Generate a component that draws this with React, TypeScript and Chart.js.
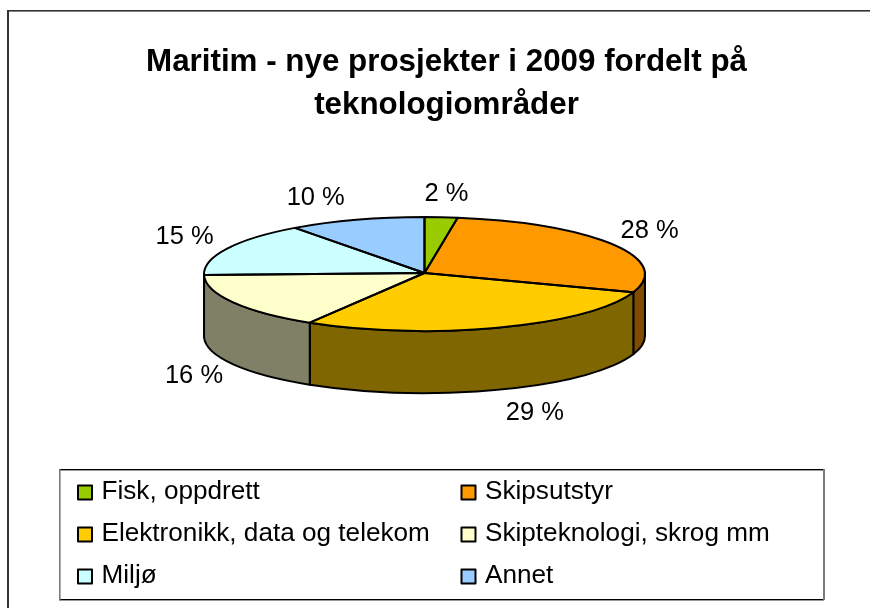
import React, { useEffect, useRef } from "react";
import { Chart, registerables } from "chart.js";

Chart.register(...registerables);

const titleLines = ["Maritim - nye prosjekter i 2009 fordelt på", "teknologiområder"];
const categories = ["Fisk, oppdrett", "Skipsutstyr", "Elektronikk, data og telekom", "Skipteknologi, skrog mm", "Miljø", "Annet"];
const shares = [2.4, 27.8, 28.51, 16.0, 15.29, 10.0];
const topColors = ["#99CC00", "#FF9900", "#FFCC00", "#FFFFCC", "#CCFFFF", "#99CCFF"];
const wallColors = ["#4D6600", "#804D00", "#806600", "#808066", "#668080", "#4D6680"];
const labelNudgeX = [2, -1, 20, -1, -3, -27];
const labelNudgeY = [0, -2, 2, 0, -1, 0];

const FONT = '"Liberation Sans", Arial, sans-serif';
const CX = 424.5, CY = 274, RX = 220.5, RY = 57, DEPTH = 62, PEN = 2;

function ellipsePath(ctx: CanvasRenderingContext2D, a0: number, a1: number, yOff: number, ccw = false) {
  ctx.ellipse(CX, CY + yOff, RX, RY, 0, a0, a1, ccw);
}

const pie3d = {
  id: "pie3d",
  beforeDraw(chart: any) {
    const ctx: CanvasRenderingContext2D = chart.ctx;
    ctx.save();
    ctx.fillStyle = "#ffffff";
    ctx.fillRect(0, 0, chart.width, chart.height);
    ctx.fillStyle = "#333333";
    ctx.fillRect(7, 10, chart.width - 7, 1.6);
    ctx.fillRect(7, 10, 2, chart.height - 10);
    ctx.restore();
  },
  beforeDatasetsDraw(chart: any) {
    const ctx: CanvasRenderingContext2D = chart.ctx;
    const arcs = chart.getDatasetMeta(0).data;
    ctx.save();
    ctx.lineWidth = PEN;
    ctx.strokeStyle = "#000";
    ctx.lineJoin = "round";
    // outer wall of each slice, only the part that faces the viewer (canvas angles 0..PI)
    arcs.forEach((arc: any, i: number) => {
      const { startAngle, endAngle } = arc.getProps(["startAngle", "endAngle"], true);
      for (const shift of [0, -2 * Math.PI, 2 * Math.PI]) {
        const a0 = Math.max(startAngle + shift, 0);
        const a1 = Math.min(endAngle + shift, Math.PI);
        if (a1 <= a0) continue;
        ctx.beginPath();
        ellipsePath(ctx, a0, a1, 0);
        ellipsePath(ctx, a1, a0, DEPTH, true);
        ctx.closePath();
        ctx.fillStyle = wallColors[i];
        ctx.fill();
        ctx.stroke();
      }
    });
    ctx.restore();
    // squash the library's own arcs onto the tilted ellipse
    const a0 = arcs[0].getProps(["x", "y", "outerRadius"], true);
    ctx.save();
    ctx.translate(CX, CY);
    ctx.scale(RX / a0.outerRadius, RY / a0.outerRadius);
    ctx.translate(-a0.x, -a0.y);
  },
  afterDatasetsDraw(chart: any) {
    const ctx: CanvasRenderingContext2D = chart.ctx;
    ctx.restore();
    const arcs = chart.getDatasetMeta(0).data;
    const values: number[] = chart.data.datasets[0].data;
    const total = values.reduce((s, v) => s + v, 0);
    ctx.save();
    ctx.lineWidth = PEN;
    ctx.strokeStyle = "#000";
    ctx.lineJoin = "round";
    arcs.forEach((arc: any) => {
      const { startAngle, endAngle } = arc.getProps(["startAngle", "endAngle"], true);
      ctx.beginPath();
      ctx.moveTo(CX, CY - 1);
      ellipsePath(ctx, startAngle, endAngle, 0);
      ctx.closePath();
      ctx.stroke();
    });
    // data labels
    ctx.fillStyle = "#000";
    ctx.font = `25.5px ${FONT}`;
    ctx.textAlign = "center";
    ctx.textBaseline = "middle";
    arcs.forEach((arc: any, i: number) => {
      const { startAngle, endAngle } = arc.getProps(["startAngle", "endAngle"], true);
      const mid = (startAngle + endAngle) / 2;
      const x = CX + (RX * 1.2) * Math.cos(mid) + labelNudgeX[i];
      const y = CY + (RY * 1.4) * Math.sin(mid) + (Math.sin(mid) > 0 ? DEPTH : 0) + labelNudgeY[i];
      ctx.fillText(`${Math.round((values[i] / total) * 100)} %`, x, y);
    });
    // legend
    ctx.fillStyle = "#000";
    ctx.fillRect(59, 469, 765, 1.4);
    ctx.fillRect(59, 599, 765, 1.4);
    ctx.fillStyle = "#7a7a7a";
    ctx.fillRect(59, 469, 1.6, 131);
    ctx.fillRect(823, 469, 2, 131);
    ctx.font = `26.15px ${FONT}`;
    ctx.textAlign = "left";
    categories.forEach((name, i) => {
      const col = i % 2, row = Math.floor(i / 2);
      const mx = col ? 461.5 : 78;
      const my = 485.5 + row * 42;
      ctx.fillStyle = topColors[i];
      ctx.fillRect(mx, my, 14, 14);
      ctx.strokeStyle = "#000";
      ctx.lineWidth = 2;
      ctx.strokeRect(mx, my, 14, 14);
      ctx.fillStyle = "#000";
      ctx.fillText(name, col ? 485 : 101.5, 491.5 + row * 42);
    });
    ctx.restore();
  },
};

export default function App() {
  const ref = useRef<HTMLCanvasElement>(null);
  useEffect(() => {
    const chart = new Chart(ref.current!, {
      type: "pie",
      data: {
        labels: categories,
        datasets: [{ data: shares, backgroundColor: topColors, borderWidth: 0, clip: false } as any],
      },
      options: {
        responsive: false,
        animation: false,
        rotation: 0,
        layout: { padding: { left: 23, right: 0, top: 0, bottom: 0 } },
        plugins: {
          legend: { display: false },
          tooltip: { enabled: false },
          title: {
            display: true,
            text: titleLines,
            color: "#000",
            font: { family: FONT, size: 31.35, weight: "bold", lineHeight: 1.4 },
            padding: { top: 40, bottom: 10 },
          },
        },
      },
      plugins: [pie3d],
    } as any);
    return () => chart.destroy();
  }, []);
  return (
    <canvas
      ref={ref}
      width={870}
      height={608}
      style={{ position: "fixed", left: 0, top: 0, width: 870, height: 608, display: "block" }}
    />
  );
}
